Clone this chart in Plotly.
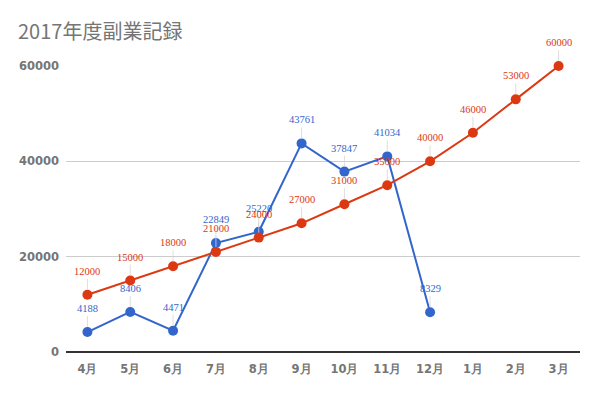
import plotly.graph_objects as go

months = ["4月", "5月", "6月", "7月", "8月", "9月", "10月", "11月", "12月", "1月", "2月", "3月"]
actual = [4188, 8406, 4471, 22849, 25220, 43761, 37847, 41034, 8329]
target = [12000, 15000, 18000, 21000, 24000, 27000, 31000, 35000, 40000, 46000, 53000, 60000]
y_ticks = [0, 20000, 40000, 60000]

BLUE = "#3366CC"
RED = "#DC3912"

fig = go.Figure()
fig.add_trace(go.Scatter(x=months[:len(actual)], y=actual, mode="lines+markers",
                         line=dict(color=BLUE, width=2), marker=dict(size=10, color=BLUE),
                         showlegend=False, hoverinfo="skip", cliponaxis=False))
fig.add_trace(go.Scatter(x=months, y=target, mode="lines+markers",
                         line=dict(color=RED, width=2), marker=dict(size=10, color=RED),
                         showlegend=False, hoverinfo="skip", cliponaxis=False))

annotations = []
for series, color in ((actual, BLUE), (target, RED)):
    for m, v in zip(months, series):
        annotations.append(dict(x=m, y=v, xref="x", yref="y", text=str(v),
                                showarrow=True, arrowhead=0, arrowwidth=1,
                                arrowcolor="rgba(215,215,215,0.8)", ax=0, ay=-16,
                                standoff=5, yanchor="bottom",
                                font=dict(family="Liberation Serif", size=10.5, color=color)))

# page has an 8px body margin; margins below compensate for it
fig.update_layout(
    width=600, height=396,
    margin=dict(l=58, r=28, t=58, b=52),
    paper_bgcolor="white", plot_bgcolor="white",
    title=dict(text="2017年度副業記録", x=10 / 600, xanchor="left",
               y=1 - 24 / 396, yanchor="middle",
               font=dict(family="Noto Sans CJK JP", size=20, color="#757575")),
    annotations=annotations,
    xaxis=dict(type="category", categoryorder="array", categoryarray=months,
               range=[-0.5, 11.5], showgrid=False, showline=False, ticks="",
               ticklabelstandoff=8,
               tickfont=dict(family="DejaVu Sans", size=11.5, color="#757575", weight="bold")),
    yaxis=dict(range=[0, 60000], tickvals=y_ticks, tickformat="d",
               showgrid=True, gridcolor="#cccccc",
               zeroline=True, zerolinecolor="#333333", zerolinewidth=1.5,
               ticks="", ticklabelstandoff=6,
               tickfont=dict(family="DejaVu Sans", size=11.5, color="#757575", weight="bold")),
)

fig.write_html("out.html")
